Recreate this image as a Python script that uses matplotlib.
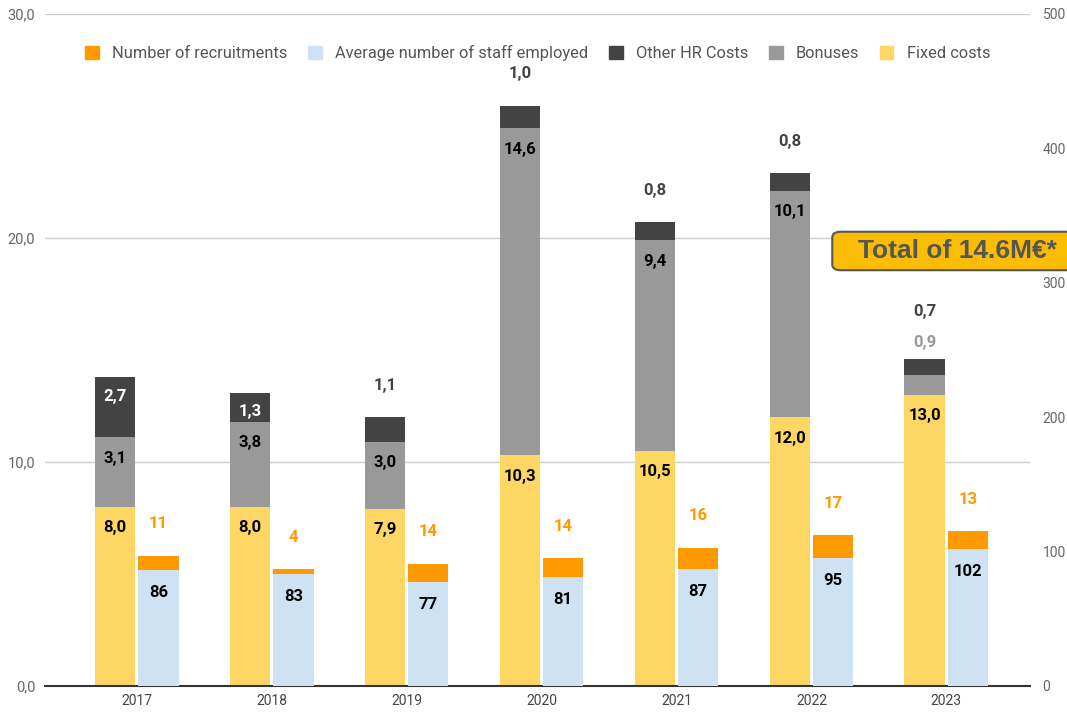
import matplotlib.pyplot as plt
import numpy as np
from matplotlib.patches import Patch, FancyBboxPatch

plt.rcParams['font.family'] = ['Roboto', 'DejaVu Sans']

years = ['2017', '2018', '2019', '2020', '2021', '2022', '2023']
fixed_costs = [8.0, 8.0, 7.9, 10.3, 10.5, 12.0, 13.0]
bonuses = [3.1, 3.8, 3.0, 14.6, 9.4, 10.1, 0.9]
other_hr = [2.7, 1.3, 1.1, 1.0, 0.8, 0.8, 0.7]
staff = [86, 83, 77, 81, 87, 95, 102]
recruitments = [11, 4, 14, 14, 16, 17, 13]

c_fixed = '#fdd663'
c_bonus = '#999999'
c_other = '#434343'
c_staff = '#cfe2f3'
c_recr = '#ff9900'

def fmt(v):
    return '{:.1f}'.format(v).replace('.', ',')

fig = plt.figure(figsize=(10.67, 7.13), dpi=100)
ax = fig.add_axes([0.0422, 0.0379, 0.9231, 0.9425])
ax2 = ax.twinx()

x = np.arange(len(years))
w = 0.3
off = 0.16

fixed = np.array(fixed_costs)
bon = np.array(bonuses)
oth = np.array(other_hr)
st = np.array(staff)
rc = np.array(recruitments)

ax.bar(x - off, fixed, w, color=c_fixed, zorder=3)
ax.bar(x - off, bon, w, bottom=fixed, color=c_bonus, zorder=3)
ax.bar(x - off, oth, w, bottom=fixed + bon, color=c_other, zorder=3)
ax2.bar(x + off, st, w, color=c_staff, zorder=3)
ax2.bar(x + off, rc, w, bottom=st, color=c_recr, zorder=3)

lbl = dict(ha='center', va='center', fontsize=12, fontweight='bold',
           textcoords='offset points', zorder=5)

for i in range(len(years)):
    top_f = fixed[i]
    top_b = fixed[i] + bon[i]
    top_o = top_b + oth[i]
    ax.annotate(fmt(fixed[i]), (x[i] - off, top_f), xytext=(0, -15), color='black', **lbl)
    small_b = bon[i] < 1.2
    if small_b:
        ax.annotate(fmt(bon[i]), (x[i] - off, top_o), xytext=(0, 12), color=c_bonus, **lbl)
    else:
        ax.annotate(fmt(bon[i]), (x[i] - off, top_b), xytext=(0, -15), color='black', **lbl)
    if oth[i] < 1.2:
        dy = 34 if small_b else 23
        ax.annotate(fmt(oth[i]), (x[i] - off, top_o), xytext=(0, dy), color=c_other, **lbl)
    else:
        ax.annotate(fmt(oth[i]), (x[i] - off, top_o), xytext=(0, -14), color='white', **lbl)
    ax2.annotate(str(st[i]), (x[i] + off, st[i]), xytext=(0, -16), color='black', **lbl)
    ax2.annotate(str(rc[i]), (x[i] + off, st[i] + rc[i]), xytext=(0, 23), color=c_recr, **lbl)

ax.set_xlim(-0.68, 6.62)
ax.set_ylim(0, 30)
ax2.set_ylim(0, 500)
ax.set_yticks([0, 10, 20, 30])
ax.set_yticklabels([fmt(v) for v in [0, 10, 20, 30]])
ax2.set_yticks([0, 100, 200, 300, 400, 500])
ax.set_xticks(x)
ax.set_xticklabels(years)

ax.grid(axis='y', color='#cccccc', linewidth=1, zorder=0)
ax.set_axisbelow(True)
for a in (ax, ax2):
    for s in a.spines.values():
        s.set_visible(False)
    a.tick_params(length=0, colors='#666666', labelsize=10.5)
ax.spines['bottom'].set_visible(True)
ax.spines['bottom'].set_color('#333333')
ax.spines['bottom'].set_linewidth(1.5)
ax.spines['bottom'].set_zorder(4)
ax.tick_params(axis='y', pad=7)
ax.tick_params(axis='x', pad=6, colors='#444444', labelsize=10)
ax2.tick_params(axis='y', pad=9, labelsize=10)

handles = [Patch(color=c_recr), Patch(color=c_staff), Patch(color=c_other),
           Patch(color=c_bonus), Patch(color=c_fixed)]
names = ['Number of recruitments', 'Average number of staff employed',
         'Other HR Costs', 'Bonuses', 'Fixed costs']
leg = fig.legend(handles, names, loc='center', bbox_to_anchor=(0.504, 0.926), ncol=5,
                 frameon=False, fontsize=11.8, handlelength=0.85, handleheight=0.85,
                 handletextpad=0.8, columnspacing=1.25, labelcolor='#555555')

box = FancyBboxPatch((0.78, 0.621), 0.25, 0.054, boxstyle='round,pad=0,rounding_size=0.008',
                     transform=fig.transFigure, facecolor='#fbbc04', edgecolor='#555555',
                     linewidth=1.5, zorder=10)
fig.patches.append(box)
fig.text(0.897, 0.648, 'Total of 14.6M€*', ha='center', va='center', fontsize=19,
         fontweight='bold', color='#555555', family=['Liberation Sans', 'DejaVu Sans'],
         zorder=11)

fig.savefig('out.png', dpi=100)
